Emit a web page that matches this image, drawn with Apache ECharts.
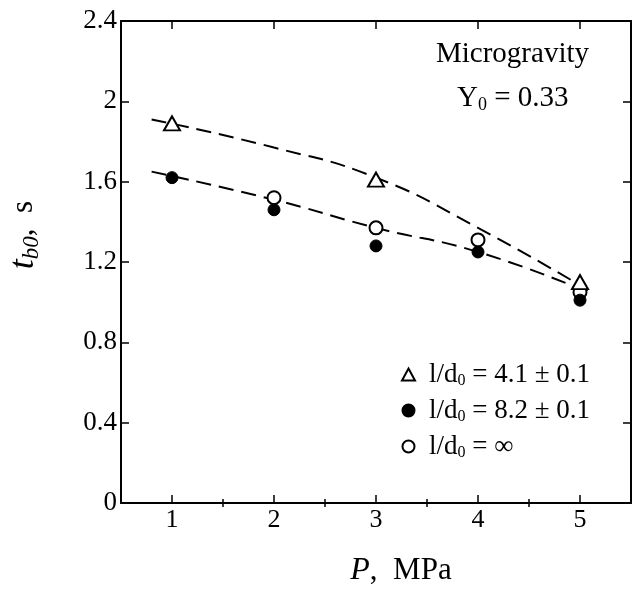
<!DOCTYPE html>
<html>
<head>
<meta charset="utf-8">
<script src="https://cdn.jsdelivr.net/npm/echarts@6/dist/echarts.min.js"></script>
<style>
  html, body { margin: 0; padding: 0; background: #fff; }
  #container { width: 633px; height: 592px; }
</style>
</head>
<body>
<div id="container"></div>
<script>
// values
let xMajor = [1, 2, 3, 4, 5];
let xMinor = [1.5, 2.5, 3.5, 4.5];

let pTri = [1, 3, 5];
let tTri = [1.89, 1.61, 1.10];

let pDot = [1, 2, 3, 4, 5];
let tDot = [1.62, 1.46, 1.28, 1.25, 1.01];

let pOpen = [2, 3, 4, 5];
let tOpen = [1.52, 1.37, 1.31, 1.05];

// dashed fit curves
let pFitUpper = [0.8, 2, 3, 4, 5.08];
let tFitUpper = [1.91, 1.77, 1.62, 1.37, 1.06];
let pFitLower = [0.8, 2, 3, 4, 5.08];
let tFitLower = [1.65, 1.51, 1.37, 1.25, 1.05];

let names = ['l/d0 = 4.1 ± 0.1', 'l/d0 = 8.2 ± 0.1', 'l/d0 = ∞'];

const serif = "'Liberation Serif', 'DejaVu Serif', serif";
const pair = (xs, ys) => xs.map((x, i) => [x, ys[i]]);

var myChart = echarts.init(document.getElementById('container'));

let xBase = {
  type: 'value',
  min: 0.5,
  max: 5.5,
  interval: 0.5,
  splitLine: { show: false },
  axisLine: { show: false },
  axisLabel: { show: false },
};

let option = {
  animation: false,
  backgroundColor: '#fff',
  grid: {
    left: 121,
    right: 2,
    top: 21,
    bottom: 82,
  },
  xAxis: [
    Object.assign({}, xBase, {
      position: 'bottom',
      axisLine: { show: true, onZero: false, lineStyle: { color: '#000', width: 2 } },
      axisTick: { inside: true, length: 8, customValues: xMajor, lineStyle: { color: '#000', width: 1.5 } },
      axisLabel: {
        show: true,
        customValues: xMajor,
        margin: 4,
        color: '#000',
        fontFamily: serif,
        fontSize: 26,
      },
      name: '{i|P},  MPa',
      nameLocation: 'middle',
      nameGap: 52,
      nameTextStyle: {
        color: '#000',
        fontFamily: serif,
        fontSize: 31,
        padding: [0, 0, 0, 50],
        rich: { i: { fontStyle: 'italic', fontFamily: serif, fontSize: 32 } },
      },
    }),
    Object.assign({}, xBase, {
      position: 'bottom',
      axisTick: { inside: true, length: 4, customValues: xMinor, lineStyle: { color: '#000', width: 1.5 } },
    }),
    Object.assign({}, xBase, {
      position: 'top',
      axisLine: { show: true, onZero: false, lineStyle: { color: '#000', width: 2 } },
      axisTick: { inside: true, length: 8, customValues: xMajor, lineStyle: { color: '#000', width: 1.5 } },
    }),
    Object.assign({}, xBase, {
      position: 'top',
      axisTick: { inside: true, length: 4, customValues: xMinor, lineStyle: { color: '#000', width: 1.5 } },
    }),
  ],
  yAxis: [
    {
      type: 'value',
      position: 'left',
      min: 0,
      max: 2.4,
      interval: 0.4,
      splitLine: { show: false },
      axisLine: { show: true, onZero: false, lineStyle: { color: '#000', width: 2 } },
      axisTick: { inside: true, length: 8, lineStyle: { color: '#000', width: 1.5 } },
      axisLabel: {
        margin: 4,
        color: '#000',
        fontFamily: serif,
        fontSize: 27,
        formatter: (v) => String(+v.toFixed(1)),
      },
    },
    {
      type: 'value',
      position: 'right',
      min: 0,
      max: 2.4,
      interval: 0.4,
      splitLine: { show: false },
      axisLine: { show: true, onZero: false, lineStyle: { color: '#000', width: 2 } },
      axisTick: { inside: true, length: 8, lineStyle: { color: '#000', width: 1.5 } },
      axisLabel: { show: false },
    },
  ],
  legend: {
    data: names,
    orient: 'vertical',
    left: 396,
    top: 356,
    itemGap: 8,
    itemWidth: 13,
    itemHeight: 12,
    textStyle: {
      color: '#000',
      fontFamily: serif,
      fontSize: 27,
      rich: {
        a: { fontFamily: serif, fontSize: 27, color: '#000', padding: [0, 0, 0, 9] },
        n: { fontFamily: serif, fontSize: 27, color: '#000' },
        sub: { fontFamily: serif, fontSize: 16, color: '#000', padding: [13, 0, 0, 0] },
      },
    },
    formatter: (name) => {
      let [a, b] = name.split('d0');
      return '{a|' + a + 'd}{sub|0}{n|' + b + '}';
    },
  },
  graphic: [
    {
      type: 'text',
      left: 436,
      top: 40,
      style: {
        text: 'Microgravity',
        fill: '#000',
        font: "29px 'Liberation Serif', serif",
      },
    },
    {
      type: 'text',
      left: 457,
      top: 84,
      style: {
        text: '{n|Y}{sub|0}{n| = 0.33}',
        fill: '#000',
        rich: {
          n: { fontFamily: serif, fontSize: 29, color: '#000' },
          sub: { fontFamily: serif, fontSize: 18, color: '#000', padding: [14, 0, 0, 0] },
        },
      },
    },
    {
      type: 'text',
      x: 24,
      y: 235,
      rotation: Math.PI / 2,
      style: {
        text: '{t|t}{sub|b0}{n|,  s}',
        align: 'center',
        verticalAlign: 'middle',
        fill: '#000',
        rich: {
          t: { fontFamily: serif, fontStyle: 'italic', fontSize: 36, color: '#000' },
          sub: { fontFamily: serif, fontStyle: 'italic', fontSize: 23, color: '#000', padding: [15, 0, 0, 0] },
          n: { fontFamily: serif, fontSize: 31, color: '#000' },
        },
      },
    },
  ],
  series: [
    {
      name: 'upper fit',
      type: 'line',
      data: pair(pFitUpper, tFitUpper),
      smooth: 0.5,
      symbol: 'none',
      silent: true,
      lineStyle: { color: '#000', width: 2, type: [15, 8] },
      z: 1,
    },
    {
      name: 'lower fit',
      type: 'line',
      data: pair(pFitLower, tFitLower),
      smooth: 0.5,
      symbol: 'none',
      silent: true,
      lineStyle: { color: '#000', width: 2, type: [15, 8] },
      z: 1,
    },
    {
      name: names[0],
      type: 'scatter',
      data: pair(pTri, tTri),
      symbol: 'triangle',
      symbolSize: [16, 14],
      itemStyle: { color: '#fff', borderColor: '#000', borderWidth: 2, opacity: 1 },
      z: 3,
    },
    {
      name: names[1],
      type: 'scatter',
      data: pair(pDot, tDot),
      symbol: 'circle',
      symbolSize: 12,
      itemStyle: { color: '#000', borderColor: '#000', borderWidth: 1, opacity: 1 },
      z: 3,
    },
    {
      name: names[2],
      type: 'scatter',
      data: pair(pOpen, tOpen),
      symbol: 'circle',
      symbolSize: 13,
      itemStyle: { color: '#fff', borderColor: '#000', borderWidth: 2, opacity: 1 },
      z: 2,
    },
  ],
};

myChart.setOption(option);
</script>
</body>
</html>
